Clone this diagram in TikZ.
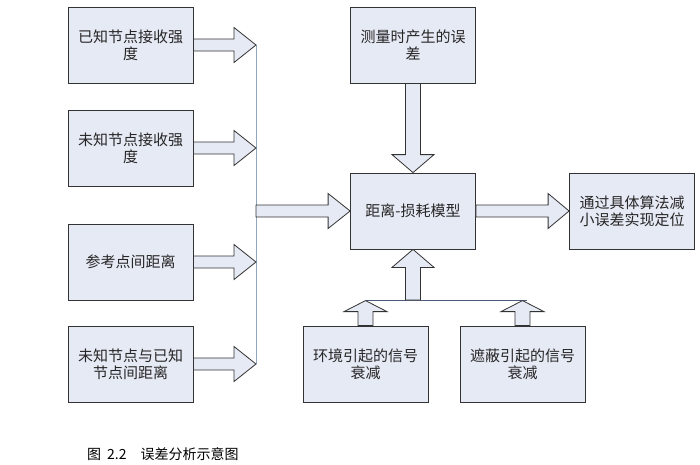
\documentclass[tikz,border=0pt]{standalone}
\usepackage{fontspec}
\setmainfont{Noto Sans CJK SC}
\usetikzlibrary{calc}

\definecolor{boxfill}{HTML}{E6EAF5}
\definecolor{edgegray}{HTML}{333333}
\definecolor{busblue}{HTML}{8FA6BE}
\definecolor{joinblue}{HTML}{4A5C7A}

\begin{document}
\begin{tikzpicture}[x=1pt,y=-1pt]

    \tikzset{
      box/.style={
        draw=edgegray,
        fill=boxfill,
        thick,
        minimum width=125pt,
        minimum height=76pt,
        inner sep=0pt,
        text width=118pt,
        align=center,
        text=black!85,
        font=\fontsize{15}{17}\selectfont,
      },
      fatarrow/.style n args={3}{
        draw=edgegray,
        fill=boxfill,
        line width=0.8pt,
        line join=miter,
        to path={
          ($(\tikztostart)!#1!90:(\tikztotarget)$)
          -- ($(\tikztotarget)!#3!(\tikztostart)!#1!90:(\tikztotarget)$)
          -- ($(\tikztotarget)!#3!(\tikztostart)!#2!90:(\tikztotarget)$)
          -- (\tikztotarget)
          -- ($(\tikztotarget)!#3!(\tikztostart)!#2!-90:(\tikztotarget)$)
          -- ($(\tikztotarget)!#3!(\tikztostart)!#1!-90:(\tikztotarget)$)
          -- ($(\tikztostart)!#1!-90:(\tikztotarget)$) -- cycle
        },
      },
    }
    \useasboundingbox (0,0) rectangle (700,464);

    % left inputs
    \node[box] (known) at (130.5,45) {已知节点接收强\\度};
    \node[box] (unknown) at (130.5,148) {未知节点接收强\\度};
    \node[box] (refdist) at (130.5,262) {参考点间距离};
    \node[box] (pairdist) at (130.5,364) {未知节点与已知\\节点间距离};

    % middle column
    \node[box] (meas) at (413,45) {测量时产生的误\\差};
    \node[box] (model) at (413,211) {距离-损耗模型};
    \node[box] (locate) at (632,211) {通过具体算法减\\小误差实现定位};
    \node[box] (envfade) at (365.5,364) {环境引起的信号\\衰减};
    \node[box] (shdfade) at (522.5,364) {遮蔽引起的信号\\衰减};

    \coordinate (bus1) at (256,45);
    \coordinate (bus2) at (256,148);
    \coordinate (bus3) at (256,262);
    \coordinate (bus4) at (256,364);
    \coordinate (busm) at (256,211);
    \coordinate (envtip) at ($(envfade.north)+(0,-25)$);
    \coordinate (shdtip) at ($(shdfade.north)+(0,-25)$);
    \coordinate (join) at (413,300);

    \draw[busblue, line width=0.8pt] (bus1) -- (bus4);
    \draw[joinblue, line width=0.8pt] (envtip) -- ($(shdtip)+(4,0)$);

    \foreach \src/\dst in {known/bus1,unknown/bus2,refdist/bus3,pairdist/bus4}
      \draw[fatarrow={6pt}{17.5pt}{22pt}] (\src.east |- \dst) to (\dst);

    \draw[fatarrow={6pt}{17.5pt}{22pt}] (busm) to (model.west);
    \draw[fatarrow={6pt}{17.5pt}{21pt}] (model.east) to (locate.west);
    \draw[fatarrow={7.5pt}{21pt}{18pt}] (meas.south) to (model.north);
    \draw[fatarrow={7.5pt}{21pt}{18pt}] (join) to (model.south);
    \draw[fatarrow={7.5pt}{21.5pt}{11pt}] (envfade.north) to (envtip);
    \draw[fatarrow={7.5pt}{21.5pt}{11pt}] (shdfade.north) to (shdtip);

    \node[anchor=base west, inner sep=0pt, font=\fontsize{14}{16}\selectfont] (caption) at (87,459)
      {图\hspace{6pt}2.2\hspace{14pt}误差分析示意图};

\end{tikzpicture}
\end{document}
